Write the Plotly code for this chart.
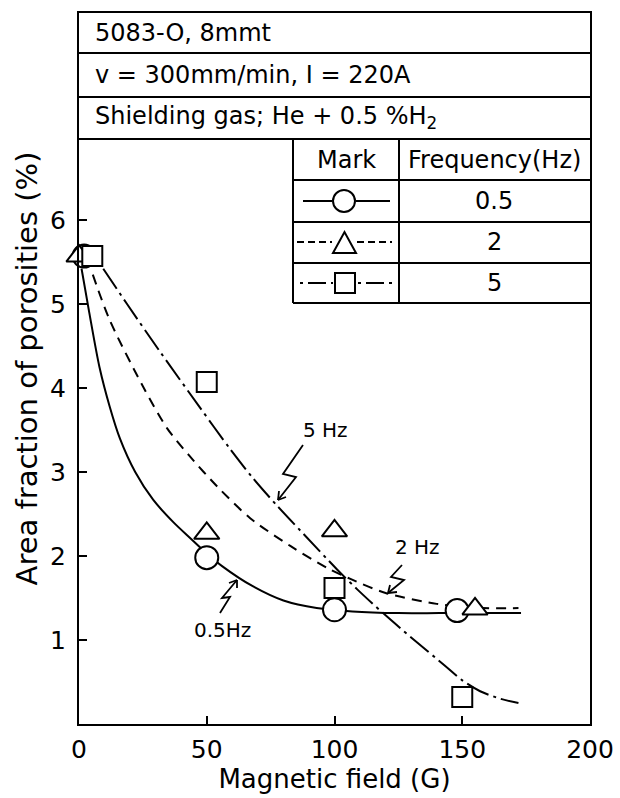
import plotly.graph_objects as go

# ---------------- data ----------------
# smooth fitted curves
curve_05_x = [1, 4, 8, 12, 16, 22, 29, 37, 44, 50, 56, 68, 80, 93, 107, 125, 141, 160, 173]
curve_05_y = [5.42, 4.90, 4.25, 3.78, 3.40, 3.00, 2.67, 2.40, 2.20, 2.03, 1.88, 1.64, 1.47, 1.38, 1.34, 1.32, 1.32, 1.32, 1.32]

curve_2_x = [5.4, 12, 25, 34.5, 43, 54, 67, 82.7, 97, 106, 120, 140, 158, 172]
curve_2_y = [5.35, 4.81, 4.02, 3.52, 3.20, 2.83, 2.45, 2.12, 1.86, 1.73, 1.56, 1.43, 1.38, 1.38]

curve_5_x = [9.5, 18.8, 32, 47.5, 59, 68, 77.5, 86.7, 101, 109, 119, 130, 143, 150, 157, 165, 172]
curve_5_y = [5.42, 5.00, 4.42, 3.76, 3.28, 2.93, 2.60, 2.30, 1.84, 1.60, 1.32, 1.03, 0.70, 0.52, 0.39, 0.30, 0.25]

# measured points
pts_05_x = [2, 50, 100, 148]
pts_05_y = [5.57, 1.98, 1.36, 1.35]
pts_2_x = [0, 50, 100, 155]
pts_2_y = [5.57, 2.27, 2.30, 1.37]
pts_5_x = [5.2, 50, 100, 150]
pts_5_y = [5.57, 4.07, 1.62, 0.32]

x_ticks = [0, 50, 100, 150, 200]
y_ticks = [1, 2, 3, 4, 5, 6]

header_lines = ["5083-O, 8mmt", "v = 300mm/min, I = 220A", "Shielding gas; He + 0.5 %H<sub>2</sub>"]
legend_freqs = ["0.5", "2", "5"]

# ---------------- layout geometry ----------------
W, H = 620, 798
ML, MR, MT, MB = 79, 30, 13, 74
PW, PH = W - ML - MR, H - MT - MB
X_MAX = 200
PX_PER_Y = 84.0
Y_MAX = PH / PX_PER_Y
FONT = "DejaVu Sans"

def dx(px):  # pixel -> data x
    return (px - ML) / PW * X_MAX

def dy(py):  # pixel -> data y
    return (H - MB - py) / PX_PER_Y

def pxp(px):  # pixel -> paper x
    return (px - ML) / PW

def pyp(py):  # pixel -> paper y
    return (H - MB - py) / PH

fig = go.Figure()

line_style = dict(color="black", width=2)
fig.add_trace(go.Scatter(x=curve_05_x, y=curve_05_y, mode="lines", line_shape="spline",
                         line=dict(line_style, smoothing=0.8), hoverinfo="skip", showlegend=False))
fig.add_trace(go.Scatter(x=curve_2_x, y=curve_2_y, mode="lines", line_shape="spline",
                         line=dict(line_style, dash="10px,7px", smoothing=0.8), hoverinfo="skip", showlegend=False))
fig.add_trace(go.Scatter(x=curve_5_x, y=curve_5_y, mode="lines", line_shape="spline",
                         line=dict(line_style, dash="24px,5px,3px,5px", smoothing=0.8), hoverinfo="skip", showlegend=False))

mk_line = dict(color="black", width=2)
fig.add_trace(go.Scatter(x=pts_05_x, y=pts_05_y, mode="markers", cliponaxis=False, showlegend=False,
                         marker=dict(symbol="circle", size=23, color="white", line=mk_line)))
fig.add_trace(go.Scatter(x=pts_2_x, y=pts_2_y, mode="markers", cliponaxis=False, showlegend=False,
                         marker=dict(symbol="triangle-up", size=22, color="white", line=mk_line)))
fig.add_trace(go.Scatter(x=pts_5_x, y=pts_5_y, mode="markers", cliponaxis=False, showlegend=False,
                         marker=dict(symbol="square", size=20, color="white", line=mk_line)))

shapes = []
ann = []
bl = dict(color="black", width=2)
txt_font = dict(family=FONT, size=24, color="black")

# header rows (full width)
for ry in [53, 97, 139]:
    shapes.append(dict(type="line", xref="paper", yref="paper", x0=0, x1=1, y0=pyp(ry), y1=pyp(ry), line=bl))
for txt, cy in zip(header_lines, [33, 75, 118]):
    ann.append(dict(text=txt, xref="paper", yref="paper", x=pxp(93), y=pyp(cy), xanchor="left", yanchor="middle",
                    showarrow=False, font=txt_font))

# legend table
tl, tm, tr = 293, 399, 590
for ry in [180, 222, 263, 303]:
    shapes.append(dict(type="line", xref="paper", yref="paper", x0=pxp(tl), x1=pxp(tr), y0=pyp(ry), y1=pyp(ry), line=bl))
for cx in (tl, tm):
    shapes.append(dict(type="line", xref="paper", yref="paper", x0=pxp(cx), x1=pxp(cx), y0=pyp(139), y1=pyp(303), line=bl))
ann.append(dict(text="Mark", xref="paper", yref="paper", x=pxp(346), y=pyp(160), xanchor="center", yanchor="middle",
                showarrow=False, font=txt_font))
ann.append(dict(text="Frequency(Hz)", xref="paper", yref="paper", x=pxp(494), y=pyp(160), xanchor="center",
                yanchor="middle", showarrow=False, font=txt_font))
for txt, cy in zip(legend_freqs, [201, 242, 283]):
    ann.append(dict(text=txt, xref="paper", yref="paper", x=pxp(494), y=pyp(cy), xanchor="center", yanchor="middle",
                    showarrow=False, font=txt_font))

# legend glyphs
def seg(x0, x1, y, dash):
    shapes.append(dict(type="line", xref="paper", yref="paper", x0=pxp(x0), x1=pxp(x1), y0=pyp(y), y1=pyp(y),
                       line=dict(color="black", width=2, dash=dash)))

seg(303, 332, 201, "solid"); seg(356, 390, 201, "solid")
shapes.append(dict(type="circle", xref="paper", yref="paper", x0=pxp(333), x1=pxp(355), y0=pyp(190), y1=pyp(212),
                   line=bl, fillcolor="white"))
seg(297, 332, 242, "7px,4px"); seg(357, 392, 242, "7px,4px")
shapes.append(dict(type="path", xref="paper", yref="paper",
                   path=f"M {pxp(333)},{pyp(253)} L {pxp(356)},{pyp(253)} L {pxp(344.5)},{pyp(232)} Z",
                   line=bl, fillcolor="white"))
seg(300, 333, 283, "3px,5px,18px,5px"); seg(358, 392, 283, "3px,5px,18px,5px")
shapes.append(dict(type="rect", xref="paper", yref="paper", x0=pxp(335), x1=pxp(355), y0=pyp(273), y1=pyp(293),
                   line=bl, fillcolor="white"))

# zigzag pointers
def zig(pts, head):
    p = "M " + " L ".join(f"{pxp(a)},{pyp(b)}" for a, b in pts)
    shapes.append(dict(type="path", xref="paper", yref="paper", path=p, line=dict(color="black", width=1.8)))
    tx, ty = pts[-1]
    for hx, hy in head:
        shapes.append(dict(type="line", xref="paper", yref="paper", x0=pxp(tx), y0=pyp(ty),
                           x1=pxp(tx + hx), y1=pyp(ty + hy), line=dict(color="black", width=1.8)))

zig([(303, 445), (283, 474), (296, 477), (278, 500)], [(1, -9), (8, -3)])
zig([(402, 565), (391, 577), (404, 580), (388, 593)], [(2, -8), (9, -1)])
zig([(220, 613), (230, 597), (222, 598), (237, 580)], [(-8, 3), (0, 8)])

lab_font = dict(family=FONT, size=20, color="black")
ann.append(dict(text="5 Hz", x=dx(325), y=dy(430), showarrow=False, font=lab_font))
ann.append(dict(text="2 Hz", x=dx(417), y=dy(547), showarrow=False, font=lab_font))
ann.append(dict(text="0.5Hz", x=dx(222), y=dy(630), showarrow=False, font=lab_font))

axis_common = dict(showline=True, linecolor="black", linewidth=2, mirror=True, ticks="inside",
                   ticklen=8, tickwidth=2, tickcolor="black", showgrid=False, zeroline=False,
                   tickfont=dict(family=FONT, size=25, color="black"))

fig.update_layout(
    width=W, height=H,
    margin=dict(l=ML, r=MR, t=MT, b=MB, autoexpand=False),
    paper_bgcolor="white", plot_bgcolor="white",
    shapes=shapes, annotations=ann,
    xaxis=dict(axis_common, range=[0, X_MAX], tickvals=x_ticks, ticklabelstandoff=2,
               title=dict(text="Magnetic field (G)", font=dict(family=FONT, size=26, color="black"), standoff=6)),
    yaxis=dict(axis_common, range=[0, Y_MAX], tickvals=y_ticks, ticklabelstandoff=6,
               title=dict(text="Area fraction of porosities (%)", font=dict(family=FONT, size=29, color="black"), standoff=4)),
    showlegend=False,
)

fig.write_html("out.html")
